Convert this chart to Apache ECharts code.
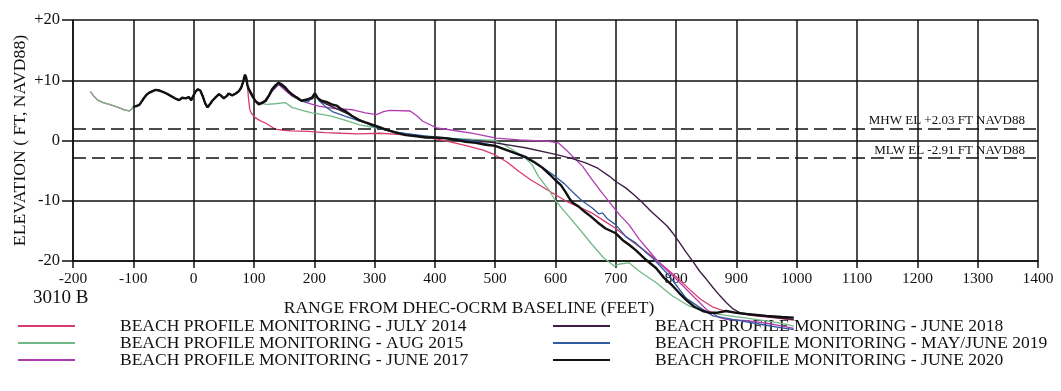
<!DOCTYPE html>
<html>
<head>
<meta charset="utf-8">
<script src="https://cdn.jsdelivr.net/npm/echarts@6/dist/echarts.min.js"></script>
<style>
  html, body { margin: 0; padding: 0; background: #fff; }
  #chart { width: 1061px; height: 391px; }
</style>
</head>
<body>
<div id="chart"></div>
<script>
// Beach profile 3010 B: range from baseline (ft) vs elevation (ft, NAVD88)

const xTicks = { min: -200, max: 1400, step: 100 };
const yTicks = { min: -20, max: 20, step: 10 };

// Tidal datums
const MHW = 2.03;
const MLW = -2.91;
const datumLabels = ['MHW EL +2.03 FT NAVD88', 'MLW EL -2.91 FT NAVD88'];

const seriesNames = [
  'BEACH PROFILE MONITORING - JULY 2014',
  'BEACH PROFILE MONITORING - AUG 2015',
  'BEACH PROFILE MONITORING - JUNE 2017',
  'BEACH PROFILE MONITORING - JUNE 2018',
  'BEACH PROFILE MONITORING - MAY/JUNE 2019',
  'BEACH PROFILE MONITORING - JUNE 2020'
];

// Landward section surveyed only in 2014 and 2015
const upperBeach = [[-171,8.1],[-165,7.3],[-159,6.7],[-150,6.3],[-140,6.0],[-131,5.7],[-123,5.4],[-115,5.1],[-107,4.9],[-103,5.2]];

// Dune section common to all surveys
const dune = [[-100,5.6],[-95,5.7],[-90,5.9],[-86,6.5],[-82,7.1],[-78,7.6],[-74,7.9],[-68,8.2],[-63,8.4],[-57,8.3],[-52,8.1],[-45,7.8],[-38,7.4],[-31,7.0],[-24,6.7],[-19,7.1],[-13,7.0],[-8,7.2],[-4,6.7],[-1,6.5],[3,8.1],[7,8.5],[11,8.3],[15,7.4],[19,6.2],[23,5.5],[27,6.0],[31,6.6],[36,7.1],[42,7.7],[46,7.4],[50,7.0],[55,7.4],[58,7.8],[64,7.5],[70,7.8],[75,8.2],[79,8.8],[82,9.7],[85,10.9],[87,10.5],[89,9.3]];

// Seaward part of each survey
const july2014 = [[91,7.0],[93,5.2],[96,4.5],[102,3.8],[110,3.3],[119,2.9],[127,2.4],[135,1.9],[150,1.7],[163,1.6],[190,1.5],[218,1.3],[245,1.2],[273,1.1],[308,1.2],[340,1.0],[370,0.7],[400,0.3],[420,-0.1],[450,-0.8],[480,-1.6],[500,-2.4],[520,-3.6],[540,-5.2],[560,-6.6],[580,-7.8],[600,-9.0],[620,-10.2],[640,-11.1],[660,-12.0],[680,-13.3],[700,-14.6],[720,-16.2],[740,-17.7],[760,-19.2],[780,-20.9],[800,-22.6],[820,-24.5],[840,-26.3],[860,-27.6],[880,-28.3],[900,-28.6],[930,-29.1],[960,-29.4],[995,-29.8]];

const aug2015 = [[92,8.2],[96,7.3],[102,6.6],[110,6.2],[121,6.0],[135,6.1],[152,6.3],[163,5.5],[180,5.0],[196,4.6],[215,4.3],[230,4.0],[256,3.2],[275,2.6],[297,2.2],[330,1.5],[363,0.9],[400,0.5],[440,0.3],[480,0.1],[500,0.0],[515,-0.7],[528,-1.5],[550,-2.9],[561,-4.0],[572,-6.0],[589,-8.2],[600,-10.0],[617,-12.0],[639,-14.6],[661,-17.3],[680,-19.5],[697,-20.8],[706,-20.5],[722,-20.3],[739,-21.7],[767,-23.6],[794,-25.8],[822,-27.5],[856,-28.6],[880,-29.0],[911,-29.4],[940,-29.8],[967,-30.2],[995,-30.8]];

const june2017 = [[90,9.2],[96,7.6],[102,6.6],[108,6.2],[119,6.6],[130,8.2],[141,9.3],[152,8.3],[163,7.4],[174,6.8],[190,6.2],[207,5.7],[234,5.3],[264,5.1],[285,4.6],[303,4.3],[315,4.8],[325,5.0],[359,4.9],[370,4.1],[380,3.2],[403,2.1],[430,1.7],[463,1.2],[502,0.4],[540,0.1],[585,-0.1],[605,-0.4],[617,-1.5],[630,-2.8],[645,-4.3],[660,-6.4],[675,-8.4],[690,-10.3],[706,-12.3],[722,-14.0],[739,-16.4],[755,-18.3],[772,-20.3],[800,-23.0],[828,-25.8],[850,-28.0],[870,-29.3],[883,-29.7],[917,-29.9],[961,-30.5],[995,-31.2]];

const june2018 = [[91,8.6],[96,7.6],[102,6.6],[110,6.1],[120,6.5],[130,8.2],[141,9.4],[152,8.6],[163,7.5],[180,6.5],[197,6.9],[201,7.5],[212,6.4],[230,5.6],[252,4.6],[274,3.5],[297,2.4],[320,1.7],[350,1.1],[385,0.6],[420,0.3],[450,0.1],[484,-0.2],[500,-0.4],[550,-1.2],[600,-2.3],[628,-3.0],[650,-3.7],[670,-4.6],[689,-5.9],[700,-6.8],[717,-7.9],[730,-9.0],[744,-10.3],[760,-11.9],[772,-13.0],[785,-14.2],[794,-15.3],[806,-17.0],[817,-18.6],[828,-20.1],[839,-21.7],[850,-23.0],[861,-24.4],[872,-25.7],[883,-26.9],[895,-28.0],[906,-28.6],[920,-28.9],[939,-29.1],[965,-29.4],[995,-29.7]];

const june2019 = [[91,8.6],[96,7.7],[102,6.6],[108,6.0],[119,6.6],[130,8.4],[141,9.5],[152,8.7],[163,7.6],[179,6.5],[190,6.4],[197,7.2],[201,8.0],[208,6.6],[220,5.5],[230,4.8],[252,4.0],[286,2.9],[308,2.0],[340,1.3],[380,0.8],[420,0.4],[460,0.0],[500,-0.9],[520,-1.6],[544,-2.6],[572,-4.0],[600,-6.0],[615,-7.2],[628,-8.5],[644,-10.0],[661,-11.2],[672,-12.2],[678,-12.0],[686,-13.0],[700,-14.0],[717,-16.0],[733,-17.0],[750,-18.6],[761,-19.5],[775,-21.0],[789,-22.5],[803,-24.4],[817,-26.2],[839,-27.7],[861,-29.1],[894,-29.7],[939,-30.5],[970,-31.0],[995,-31.4]];

const june2020 = [[91,8.6],[96,7.7],[102,6.6],[108,6.0],[113,6.2],[119,6.6],[125,7.5],[130,8.5],[136,9.2],[141,9.6],[146,9.3],[152,8.8],[158,8.1],[163,7.7],[170,7.2],[179,6.6],[188,6.8],[196,7.1],[201,7.8],[206,7.0],[212,6.6],[220,6.4],[229,6.0],[237,5.8],[245,5.2],[253,4.8],[262,4.1],[274,3.4],[285,3.0],[297,2.6],[308,2.2],[319,1.8],[335,1.3],[352,0.9],[370,0.7],[385,0.5],[400,0.5],[418,0.4],[435,0.1],[451,-0.2],[468,-0.4],[484,-0.7],[500,-0.9],[517,-1.5],[533,-2.1],[550,-2.7],[565,-3.6],[578,-4.5],[590,-5.6],[600,-6.6],[609,-7.4],[617,-8.6],[623,-9.6],[628,-10.3],[639,-11.0],[648,-11.8],[656,-12.4],[670,-13.6],[683,-14.6],[700,-15.4],[711,-16.5],[722,-17.3],[733,-18.2],[750,-19.8],[767,-21.2],[780,-22.8],[794,-24.1],[806,-25.4],[817,-26.5],[830,-27.6],[844,-28.3],[856,-28.6],[867,-28.6],[883,-28.3],[900,-28.6],[917,-28.8],[950,-29.1],[975,-29.3],[995,-29.4]];

const profiles = [
  upperBeach.concat(dune, july2014),
  upperBeach.concat(dune, aug2015),
  dune.concat(june2017),
  dune.concat(june2018),
  dune.concat(june2019),
  dune.concat(june2020)
];

const colors = ['#d83a6c', '#72b888', '#b03cb4', '#3e1f44', '#2f5c9e', '#111111'];
const widths = [1.3, 1.3, 1.3, 1.4, 1.3, 2.4];

const FONT = 'Liberation Serif';
const INK = '#111';
const gridLine = { color: INK, width: 1.5 };

const series = profiles.map((data, i) => ({
  name: seriesNames[i],
  type: 'line',
  data: data,
  symbol: 'none',
  showSymbol: false,
  smooth: false,
  clip: false,
  z: 3 + i,
  lineStyle: { color: colors[i], width: widths[i] },
  itemStyle: { color: colors[i] }
}));

series.push({
  name: 'datums',
  type: 'line',
  data: [],
  z: 2,
  markLine: {
    silent: true,
    symbol: 'none',
    animation: false,
    lineStyle: { color: INK, width: 1.5, type: [13, 6] },
    label: {
      position: 'insideEndTop',
      fontFamily: FONT,
      fontSize: 13,
      color: INK,
      distance: [13, 1]
    },
    data: [
      { yAxis: MHW, label: { formatter: datumLabels[0] } },
      { yAxis: MLW, label: { formatter: datumLabels[1] } }
    ]
  }
});

const legendBase = {
  orient: 'vertical',
  icon: 'rect',
  itemWidth: 57,
  itemHeight: 2,
  itemGap: -1,
  padding: 0,
  selectedMode: false,
  textStyle: { fontFamily: FONT, fontSize: 17.5, lineHeight: 17, color: INK, padding: [0, 0, 0, 40] }
};

const chart = echarts.init(document.getElementById('chart'), null, { renderer: 'canvas' });
chart.setOption({
  animation: false,
  backgroundColor: '#fff',
  textStyle: { fontFamily: FONT, color: INK },
  title: {
    text: '3010 B',
    left: 33,
    top: 289,
    padding: 0,
    textStyle: { fontFamily: FONT, fontSize: 19, fontWeight: 'normal', color: INK }
  },
  grid: { left: 73, right: 23, top: 20, bottom: 130, outerBoundsMode: 'none' },
  xAxis: {
    type: 'value',
    min: xTicks.min,
    max: xTicks.max,
    interval: xTicks.step,
    name: 'RANGE FROM DHEC-OCRM BASELINE (FEET)',
    nameLocation: 'middle',
    nameGap: 38,
    nameMoveOverlap: false,
    nameTextStyle: { fontFamily: FONT, fontSize: 17.5, color: INK, padding: [0, 173, 0, 0] },
    axisLine: { show: true, onZero: false, lineStyle: gridLine },
    axisTick: { show: true, length: 7, lineStyle: gridLine },
    axisLabel: {
      fontFamily: FONT, fontSize: 15.5, color: INK, margin: 10,
      showMinLabel: true, showMaxLabel: true, hideOverlap: false,
      formatter: v => String(v)
    },
    splitLine: { show: true, showMinLine: true, showMaxLine: true, lineStyle: gridLine }
  },
  yAxis: {
    type: 'value',
    min: yTicks.min,
    max: yTicks.max,
    interval: yTicks.step,
    name: 'ELEVATION ( FT, NAVD88)',
    nameLocation: 'middle',
    nameGap: 44,
    nameMoveOverlap: false,
    nameTextStyle: { fontFamily: FONT, fontSize: 17.7, color: INK },
    axisLine: { show: true, onZero: false, lineStyle: gridLine },
    axisTick: { show: true, length: 11, lineStyle: gridLine },
    axisLabel: {
      fontFamily: FONT, fontSize: 16.5, color: INK, margin: 13,
      showMinLabel: true, showMaxLabel: true,
      formatter: v => (v > 0 ? '+' + v : String(v))
    },
    splitLine: { show: true, showMinLine: true, showMaxLine: true, lineStyle: gridLine }
  },
  legend: [
    Object.assign({}, legendBase, { data: seriesNames.slice(0, 3), left: 18, top: 317 }),
    Object.assign({}, legendBase, { data: seriesNames.slice(3), left: 553, top: 317 })
  ],
  series: series
});
</script>
</body>
</html>
